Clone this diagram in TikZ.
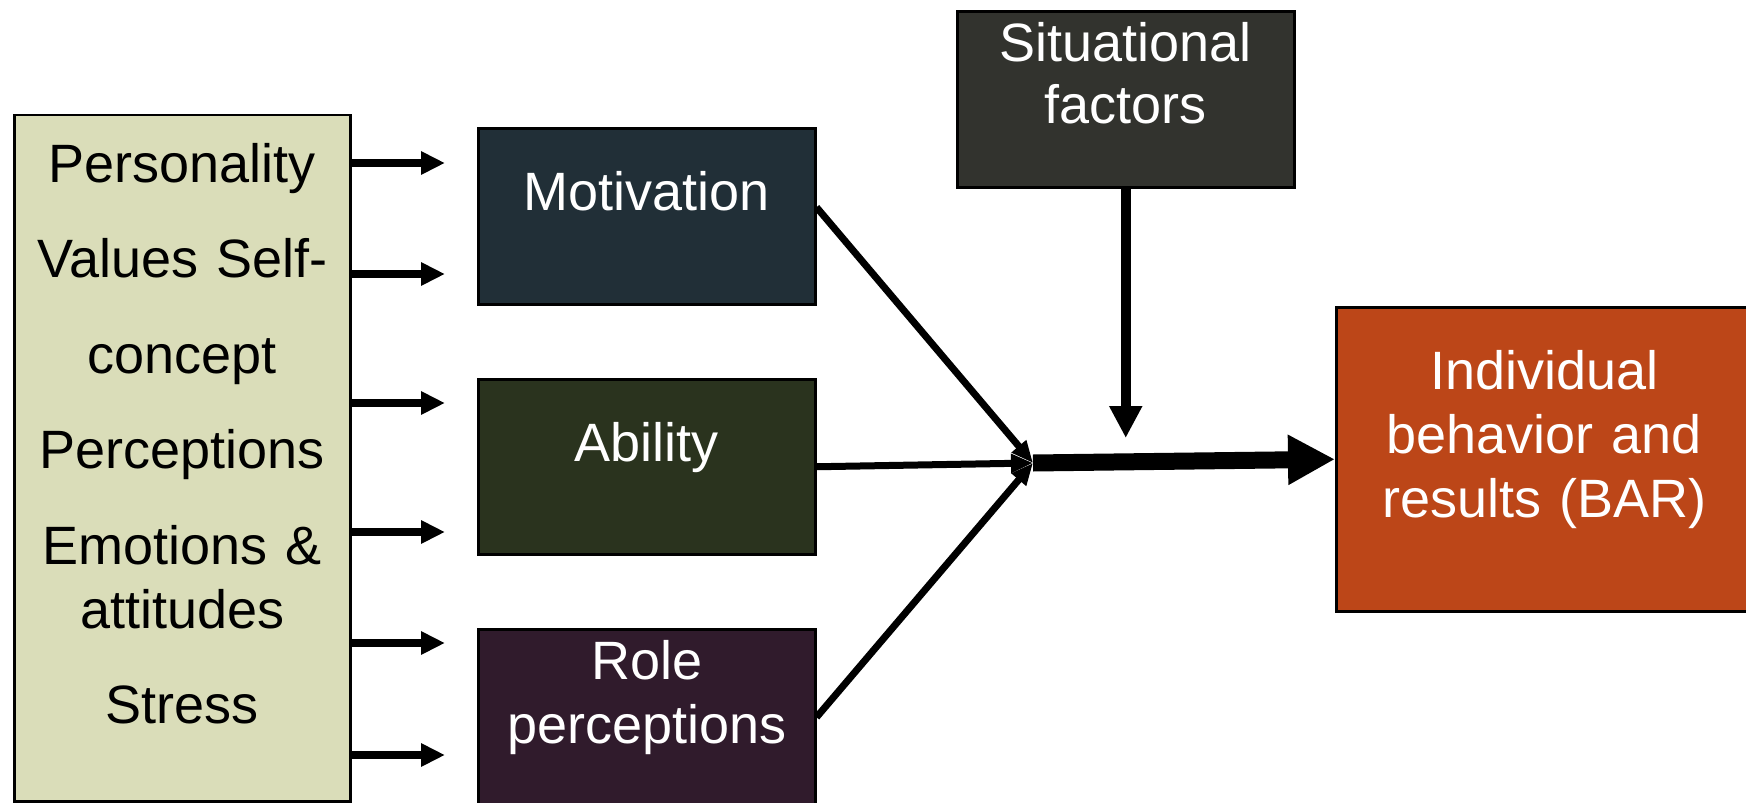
\documentclass[tikz,border=0pt]{standalone}
\usepackage{fontspec}
\setmainfont{Liberation Sans}
\usetikzlibrary{arrows.meta}
\definecolor{indfill}{HTML}{DADDB9}
\definecolor{motfill}{HTML}{212F37}
\definecolor{abifill}{HTML}{2A331E}
\definecolor{rolfill}{HTML}{301B2C}
\definecolor{sitfill}{HTML}{32332E}
\definecolor{barfill}{HTML}{BC4618}
\begin{document}
\begin{tikzpicture}[x=1pt,y=-1pt,
    box/.style={draw=black,line width=2.5pt,inner sep=0pt,anchor=north west,
      align=center,text=white,font=\fontsize{54}{64}\selectfont},
    feed/.style={line width=7.5pt,-{Triangle[length=24pt,width=22pt]}},
    meet/.style={line width=7pt,-{Triangle[length=22pt,width=18pt]}},
    lead/.style={line width=10pt,-{Triangle[length=32pt,width=31pt]}},
    push/.style={line width=17pt,-{Triangle[length=47pt,width=47pt]}}]
  \useasboundingbox (0,0) rectangle (1746,803);
  \node [box,fill=indfill,text=black,text width=336pt,text height=67.5pt,text depth=619pt] (ind) at (13,113.5)
    {Personality\\[31.5pt]Values Self-\\[31.5pt]concept\\[31.5pt]Perceptions\\[31.5pt]Emotions \&\\attitudes\\[31.5pt]Stress};
  \node [box,fill=motfill,text width=337pt,text height=82pt,text depth=94pt] (mot) at (477,127) {Motivation};
  \node [box,fill=abifill,text width=337pt,text height=82pt,text depth=93pt] (abi) at (477,378) {Ability};
  \node [box,fill=rolfill,text width=337pt,text height=50pt,text depth=126pt] (rol) at (477,628) {Role\\perceptions};
  \node [box,fill=sitfill,text width=337pt,text height=50pt,text depth=126pt] (sit) at (956,10) {Situational\\[-2pt]factors};
  \node [box,fill=barfill,text width=416pt,text height=82pt,text depth=222pt] (bar) at (1335,306)
    {Individual\\behavior and\\results (BAR)};
  % arrows out of the left box
  \foreach \y [count=\i] in {163,274,403,532,643,755} {
    \coordinate (t\i) at (445,\y);
    \draw [feed] (ind.east |- t\i) -- (t\i);
  }
  \coordinate (j) at (1033,463);
  \coordinate (s) at (1126,438);
  \draw [meet] ([yshift=9pt]mot.east) -- (j);
  \draw [meet] (abi.east) -- (j);
  \draw [meet] (rol.east) -- (j);
  \draw [lead] (sit.south) -- (sit.south |- s);
  \draw [push] (j) -- (bar.west);
\end{tikzpicture}
\end{document}
